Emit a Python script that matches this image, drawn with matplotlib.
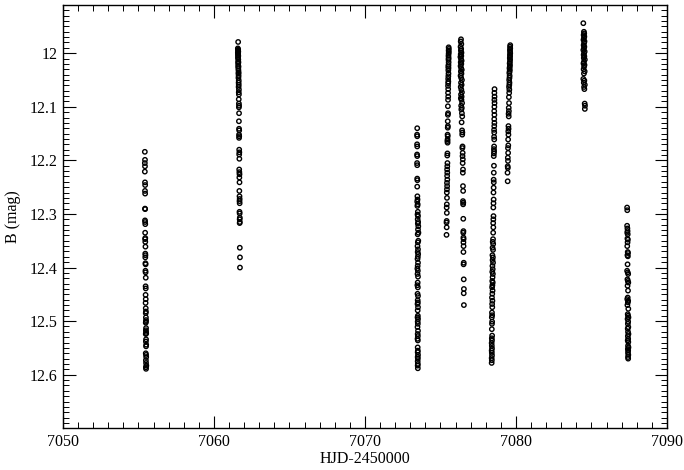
import matplotlib
matplotlib.use("Agg")
import matplotlib.pyplot as plt
from matplotlib.ticker import MultipleLocator, FixedLocator

# ---------------- data (HJD-2450000, B mag), one pair of arrays per night ----
hjd_n1 = [7055.42, 7055.43, 7055.42, 7055.43, 7055.42, 7055.43, 7055.44, 7055.43, 7055.44, 7055.43,
          7055.44, 7055.43, 7055.44, 7055.45, 7055.44, 7055.45, 7055.44, 7055.45, 7055.46, 7055.45,
          7055.46, 7055.45, 7055.46, 7055.47, 7055.46, 7055.47, 7055.48, 7055.47, 7055.48, 7055.47,
          7055.48, 7055.47, 7055.48, 7055.49, 7055.48, 7055.49, 7055.50, 7055.49, 7055.48, 7055.50,
          7055.49, 7055.50, 7055.51, 7055.48, 7055.50, 7055.49, 7055.51, 7055.50, 7055.48, 7055.50,
          7055.51, 7055.49, 7055.50, 7055.52, 7055.49, 7055.50]
mag_n1 = [12.184, 12.199, 12.205, 12.211, 12.221, 12.241, 12.246, 12.257, 12.262, 12.290,
          12.291, 12.312, 12.315, 12.319, 12.335, 12.345, 12.347, 12.352, 12.361, 12.374,
          12.377, 12.381, 12.392, 12.394, 12.406, 12.409, 12.419, 12.435, 12.439, 12.451,
          12.459, 12.466, 12.476, 12.482, 12.485, 12.493, 12.498, 12.501, 12.503, 12.513,
          12.517, 12.520, 12.523, 12.524, 12.534, 12.538, 12.544, 12.547, 12.560, 12.563,
          12.567, 12.573, 12.578, 12.583, 12.586, 12.589]

hjd_n2 = [7061.60, 7061.58, 7061.60, 7061.59, 7061.61, 7061.58, 7061.60, 7061.59, 7061.61, 7061.60,
          7061.59, 7061.61, 7061.60, 7061.62, 7061.60, 7061.61, 7061.62, 7061.61, 7061.62, 7061.63,
          7061.62, 7061.63, 7061.62, 7061.64, 7061.63, 7061.64, 7061.63, 7061.65, 7061.64, 7061.65,
          7061.64, 7061.65, 7061.66, 7061.65, 7061.66, 7061.65, 7061.66, 7061.67, 7061.66, 7061.67,
          7061.66, 7061.67, 7061.68, 7061.67, 7061.68, 7061.67, 7061.68, 7061.69, 7061.68, 7061.69,
          7061.68, 7061.69, 7061.70, 7061.69, 7061.70, 7061.69, 7061.70, 7061.71, 7061.70, 7061.71,
          7061.70, 7061.71, 7061.72, 7061.72]
mag_n2 = [11.979, 11.991, 11.993, 11.995, 11.997, 11.999, 12.001, 12.003, 12.005, 12.007,
          12.009, 12.012, 12.016, 12.017, 12.020, 12.024, 12.025, 12.028, 12.032, 12.036,
          12.038, 12.042, 12.046, 12.051, 12.055, 12.059, 12.063, 12.068, 12.073, 12.077,
          12.086, 12.094, 12.098, 12.101, 12.112, 12.127, 12.141, 12.144, 12.152, 12.155,
          12.158, 12.180, 12.185, 12.189, 12.197, 12.217, 12.222, 12.226, 12.232, 12.241,
          12.257, 12.267, 12.272, 12.276, 12.280, 12.296, 12.299, 12.307, 12.310, 12.315,
          12.317, 12.363, 12.381, 12.400]

hjd_n3 = [7073.46, 7073.45, 7073.46, 7073.45, 7073.46, 7073.45, 7073.46, 7073.45, 7073.46, 7073.46,
          7073.47, 7073.46, 7073.47, 7073.48, 7073.46, 7073.49, 7073.47, 7073.50, 7073.48, 7073.51,
          7073.49, 7073.52, 7073.50, 7073.53, 7073.51, 7073.54, 7073.49, 7073.53, 7073.50, 7073.48,
          7073.51, 7073.49, 7073.52, 7073.50, 7073.48, 7073.51, 7073.49, 7073.47, 7073.50, 7073.48,
          7073.51, 7073.49, 7073.47, 7073.50, 7073.48, 7073.51, 7073.49, 7073.50, 7073.48, 7073.51,
          7073.49, 7073.50, 7073.48, 7073.51, 7073.49, 7073.50, 7073.48, 7073.51, 7073.49, 7073.50,
          7073.48, 7073.50, 7073.49, 7073.50, 7073.49, 7073.51, 7073.49, 7073.50, 7073.49, 7073.50,
          7073.49, 7073.50]
mag_n3 = [12.140, 12.152, 12.155, 12.170, 12.174, 12.189, 12.192, 12.205, 12.209, 12.234,
          12.237, 12.249, 12.267, 12.273, 12.277, 12.282, 12.285, 12.296, 12.301, 12.304,
          12.310, 12.315, 12.318, 12.323, 12.329, 12.335, 12.338, 12.350, 12.353, 12.360,
          12.366, 12.371, 12.375, 12.380, 12.384, 12.391, 12.397, 12.402, 12.406, 12.412,
          12.417, 12.428, 12.433, 12.437, 12.449, 12.453, 12.461, 12.465, 12.468, 12.474,
          12.480, 12.490, 12.493, 12.496, 12.501, 12.505, 12.511, 12.518, 12.524, 12.528,
          12.533, 12.536, 12.549, 12.555, 12.558, 12.563, 12.567, 12.570, 12.575, 12.580,
          12.583, 12.588]

hjd_n4 = [7075.54, 7075.55, 7075.54, 7075.55, 7075.54, 7075.53, 7075.54, 7075.53, 7075.54, 7075.53,
          7075.52, 7075.53, 7075.52, 7075.53, 7075.52, 7075.51, 7075.52, 7075.51, 7075.50, 7075.51,
          7075.50, 7075.51, 7075.50, 7075.49, 7075.50, 7075.49, 7075.48, 7075.49, 7075.48, 7075.47,
          7075.48, 7075.47, 7075.46, 7075.47, 7075.46, 7075.45, 7075.46, 7075.45, 7075.44, 7075.45,
          7075.44, 7075.45, 7075.43, 7075.44, 7075.43, 7075.42, 7075.43, 7075.42, 7075.41, 7075.42,
          7075.41, 7075.40, 7075.41, 7075.40]
mag_n4 = [11.989, 11.992, 11.995, 11.998, 12.001, 12.005, 12.009, 12.012, 12.017, 12.022,
          12.025, 12.028, 12.032, 12.038, 12.043, 12.048, 12.053, 12.056, 12.061, 12.067,
          12.074, 12.081, 12.087, 12.099, 12.112, 12.115, 12.127, 12.136, 12.139, 12.152,
          12.155, 12.161, 12.164, 12.167, 12.187, 12.191, 12.205, 12.211, 12.217, 12.223,
          12.229, 12.236, 12.242, 12.248, 12.254, 12.260, 12.270, 12.282, 12.288, 12.298,
          12.313, 12.316, 12.325, 12.339]

hjd_n5 = [7076.36, 7076.34, 7076.38, 7076.33, 7076.37, 7076.35, 7076.39, 7076.34, 7076.38, 7076.32,
          7076.36, 7076.40, 7076.34, 7076.38, 7076.33, 7076.37, 7076.41, 7076.35, 7076.39, 7076.33,
          7076.37, 7076.42, 7076.36, 7076.40, 7076.34, 7076.38, 7076.42, 7076.36, 7076.40, 7076.35,
          7076.39, 7076.43, 7076.37, 7076.41, 7076.38, 7076.42, 7076.44, 7076.40, 7076.43, 7076.45,
          7076.44, 7076.46, 7076.45, 7076.47, 7076.46, 7076.48, 7076.47, 7076.49, 7076.48, 7076.49,
          7076.50, 7076.49, 7076.51, 7076.50, 7076.51, 7076.52, 7076.51, 7076.52, 7076.53, 7076.52,
          7076.53, 7076.52, 7076.54, 7076.53, 7076.54, 7076.55, 7076.54, 7076.55]
mag_n5 = [11.974, 11.978, 11.983, 11.988, 11.992, 11.995, 11.999, 12.002, 12.005, 12.007,
          12.011, 12.014, 12.017, 12.020, 12.024, 12.028, 12.031, 12.034, 12.038, 12.042,
          12.046, 12.050, 12.055, 12.059, 12.063, 12.068, 12.073, 12.077, 12.081, 12.084,
          12.087, 12.093, 12.098, 12.102, 12.105, 12.112, 12.118, 12.129, 12.144, 12.148,
          12.152, 12.174, 12.177, 12.186, 12.192, 12.198, 12.205, 12.217, 12.223, 12.248,
          12.257, 12.276, 12.279, 12.282, 12.309, 12.332, 12.335, 12.344, 12.347, 12.353,
          12.360, 12.371, 12.391, 12.394, 12.422, 12.440, 12.448, 12.470]

hjd_n6 = [7078.58, 7078.57, 7078.58, 7078.57, 7078.58, 7078.57, 7078.56, 7078.57, 7078.56, 7078.57,
          7078.56, 7078.55, 7078.56, 7078.55, 7078.56, 7078.55, 7078.54, 7078.55, 7078.54, 7078.53,
          7078.54, 7078.53, 7078.52, 7078.53, 7078.52, 7078.51, 7078.52, 7078.51, 7078.50, 7078.51,
          7078.50, 7078.49, 7078.50, 7078.49, 7078.48, 7078.46, 7078.49, 7078.45, 7078.48, 7078.44,
          7078.47, 7078.45, 7078.48, 7078.44, 7078.46, 7078.43, 7078.47, 7078.45, 7078.43, 7078.46,
          7078.44, 7078.42, 7078.45, 7078.43, 7078.41, 7078.44, 7078.42, 7078.43, 7078.41, 7078.42,
          7078.40, 7078.42, 7078.41, 7078.40, 7078.42, 7078.40, 7078.41, 7078.39, 7078.40, 7078.41,
          7078.39, 7078.40, 7078.41, 7078.39, 7078.40, 7078.39]
mag_n6 = [12.067, 12.074, 12.081, 12.087, 12.093, 12.100, 12.108, 12.115, 12.123, 12.130,
          12.136, 12.143, 12.148, 12.156, 12.161, 12.174, 12.179, 12.183, 12.187, 12.192,
          12.210, 12.223, 12.236, 12.241, 12.251, 12.260, 12.273, 12.280, 12.288, 12.304,
          12.310, 12.317, 12.325, 12.335, 12.347, 12.352, 12.356, 12.363, 12.367, 12.377,
          12.381, 12.386, 12.391, 12.397, 12.403, 12.408, 12.412, 12.418, 12.425, 12.428,
          12.433, 12.437, 12.443, 12.449, 12.456, 12.462, 12.468, 12.474, 12.484, 12.489,
          12.493, 12.501, 12.505, 12.515, 12.527, 12.532, 12.536, 12.541, 12.546, 12.551,
          12.555, 12.559, 12.564, 12.569, 12.573, 12.578]

hjd_n7 = [7079.62, 7079.61, 7079.62, 7079.60, 7079.61, 7079.62, 7079.60, 7079.61, 7079.59, 7079.61,
          7079.60, 7079.58, 7079.60, 7079.59, 7079.57, 7079.59, 7079.58, 7079.56, 7079.58, 7079.57,
          7079.55, 7079.57, 7079.56, 7079.54, 7079.56, 7079.55, 7079.53, 7079.54, 7079.52, 7079.53,
          7079.51, 7079.52, 7079.50, 7079.51, 7079.49, 7079.50, 7079.48, 7079.49, 7079.47, 7079.48,
          7079.46, 7079.47, 7079.45, 7079.46, 7079.44, 7079.45]
mag_n7 = [11.985, 11.988, 11.991, 11.994, 11.997, 12.000, 12.003, 12.006, 12.009, 12.012,
          12.016, 12.019, 12.022, 12.025, 12.028, 12.031, 12.034, 12.037, 12.042, 12.046,
          12.050, 12.055, 12.059, 12.063, 12.068, 12.074, 12.082, 12.093, 12.102, 12.108,
          12.113, 12.118, 12.136, 12.141, 12.146, 12.152, 12.161, 12.172, 12.177, 12.186,
          12.195, 12.201, 12.211, 12.214, 12.223, 12.239]

hjd_n8 = [7084.46, 7084.50, 7084.52, 7084.48, 7084.53, 7084.50, 7084.47, 7084.54, 7084.51, 7084.48,
          7084.53, 7084.50, 7084.46, 7084.55, 7084.51, 7084.48, 7084.53, 7084.49, 7084.56, 7084.50,
          7084.47, 7084.54, 7084.51, 7084.48, 7084.55, 7084.50, 7084.46, 7084.53, 7084.49, 7084.56,
          7084.51, 7084.53, 7084.55, 7084.57, 7084.56]
mag_n8 = [11.944, 11.960, 11.963, 11.966, 11.969, 11.972, 11.975, 11.978, 11.981, 11.985,
          11.988, 11.991, 11.994, 11.997, 12.000, 12.003, 12.006, 12.009, 12.012, 12.016,
          12.019, 12.022, 12.025, 12.030, 12.034, 12.038, 12.048, 12.051, 12.055, 12.059,
          12.063, 12.067, 12.094, 12.098, 12.104]

hjd_n9 = [7087.36, 7087.37, 7087.36, 7087.38, 7087.39, 7087.37, 7087.40, 7087.38, 7087.41, 7087.39,
          7087.37, 7087.40, 7087.42, 7087.38, 7087.41, 7087.39, 7087.36, 7087.40, 7087.43, 7087.38,
          7087.41, 7087.44, 7087.39, 7087.42, 7087.40, 7087.37, 7087.43, 7087.41, 7087.38, 7087.44,
          7087.40, 7087.42, 7087.45, 7087.39, 7087.43, 7087.41, 7087.44, 7087.40, 7087.42, 7087.45,
          7087.41, 7087.43, 7087.40, 7087.44, 7087.42, 7087.45, 7087.41, 7087.43, 7087.42, 7087.44,
          7087.42, 7087.43]
mag_n9 = [12.288, 12.293, 12.322, 12.327, 12.332, 12.335, 12.338, 12.346, 12.348, 12.353,
          12.360, 12.371, 12.373, 12.377, 12.379, 12.394, 12.406, 12.409, 12.412, 12.422,
          12.425, 12.428, 12.434, 12.443, 12.456, 12.459, 12.462, 12.465, 12.470, 12.477,
          12.487, 12.490, 12.493, 12.496, 12.501, 12.505, 12.511, 12.514, 12.520, 12.524,
          12.528, 12.533, 12.536, 12.539, 12.546, 12.549, 12.552, 12.555, 12.559, 12.563,
          12.567, 12.570]

nights = [(hjd_n1, mag_n1), (hjd_n2, mag_n2), (hjd_n3, mag_n3), (hjd_n4, mag_n4),
          (hjd_n5, mag_n5), (hjd_n6, mag_n6), (hjd_n7, mag_n7), (hjd_n8, mag_n8),
          (hjd_n9, mag_n9)]

x_ticks = [7050, 7060, 7070, 7080, 7090]
x_ticklabels = ["7050", "7060", "7070", "7080", "7090"]
y_ticks = [12.0, 12.1, 12.2, 12.3, 12.4, 12.5, 12.6]
y_ticklabels = ["12", "12.1", "12.2", "12.3", "12.4", "12.5", "12.6"]
x_label = "HJD-2450000"
y_label = "B (mag)"

# ---------------- plotting -----------------------------------------------
plt.rcParams['font.family'] = ['Liberation Serif', 'DejaVu Serif']
plt.rcParams['mathtext.fontset'] = 'stix'

fig = plt.figure(figsize=(6.84, 4.70), dpi=100)
ax = fig.add_axes([0.0921, 0.0887, 0.8830, 0.9007])

for hjd, mag in nights:
    pairs = list(zip(hjd, mag))
    xs = [p[0] for p in pairs]
    ys = [p[1] for p in pairs]
    ax.scatter(xs, ys, s=10, facecolors='none', edgecolors='black',
               linewidths=1.0, zorder=3)

ax.set_xlim(7050, 7090)
ax.set_ylim(12.70, 11.91)

ax.xaxis.set_major_locator(FixedLocator(x_ticks))
ax.set_xticklabels(x_ticklabels)
ax.xaxis.set_minor_locator(MultipleLocator(1))
ax.yaxis.set_major_locator(FixedLocator(y_ticks))
ax.set_yticklabels(y_ticklabels)
ax.yaxis.set_minor_locator(MultipleLocator(0.01))

ax.tick_params(which='both', direction='in', top=True, right=True,
               labelsize=11.5, colors='black')
ax.tick_params(which='major', length=9, width=0.8, pad=4)
ax.tick_params(which='minor', length=4.5, width=0.7)
ax.tick_params(axis='y', which='major', pad=4)

for sp in ax.spines.values():
    sp.set_linewidth(1.0)

ax.set_xlabel(x_label, fontsize=11.5, labelpad=1)
ax.set_ylabel(y_label, fontsize=11.5, labelpad=6)

fig.savefig("out.png", dpi=100)
